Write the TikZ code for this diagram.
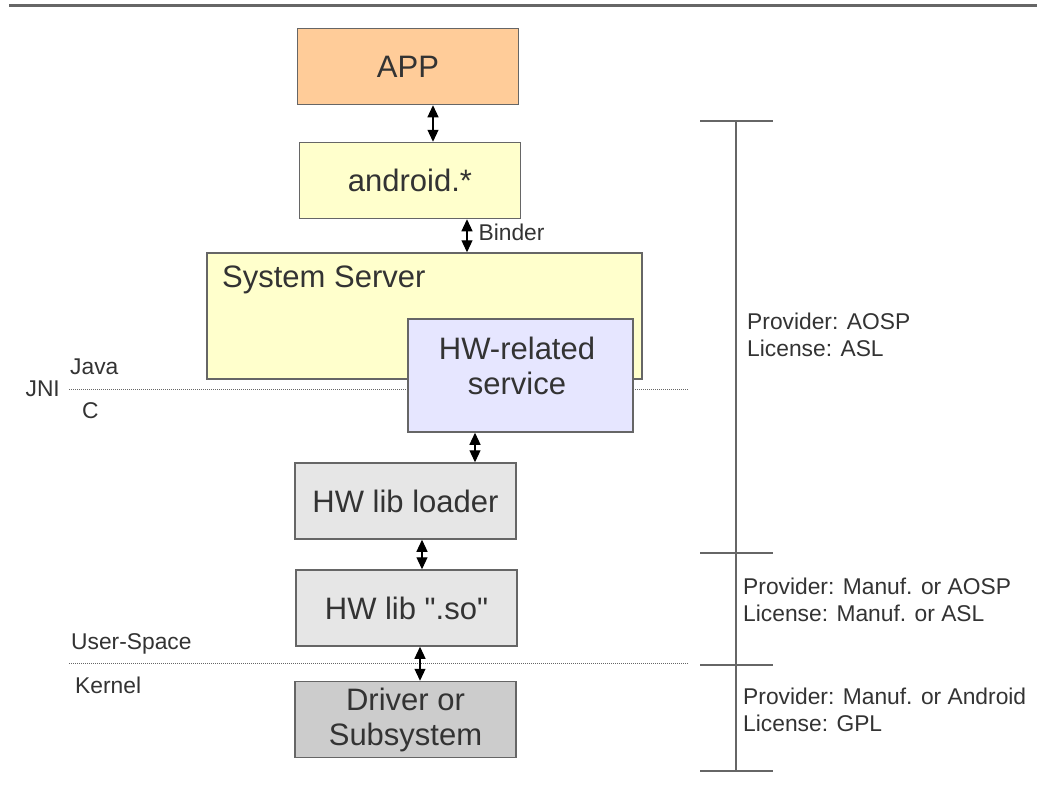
\documentclass[tikz,border=0pt]{standalone}
\usepackage{fontspec}
\setmainfont{Liberation Sans}[Ligatures=TeXOff]
\usetikzlibrary{arrows.meta,positioning}

\definecolor{linegray}{HTML}{666666}
\definecolor{textgray}{HTML}{333333}
\definecolor{apporange}{HTML}{FFCC99}
\definecolor{paleyellow}{HTML}{FFFFCC}
\definecolor{palelilac}{HTML}{E6E6FF}
\definecolor{boxgray}{HTML}{E6E6E6}
\definecolor{darkbox}{HTML}{CCCCCC}

\begin{document}
\begin{tikzpicture}[x=1pt, y=-1pt,
    bigtxt/.style={text=textgray, font=\fontsize{31}{35}\selectfont, align=center, inner sep=0pt},
    box/.style={bigtxt, draw=linegray, line width=1.5pt, minimum width=221pt, minimum height=76pt},
    note/.style={text=textgray, font=\fontsize{22.8}{27}\selectfont, align=left, inner sep=0pt},
    biarrow/.style={line width=1.2pt, {Triangle[length=12pt,width=11pt]}-{Triangle[length=12pt,width=11pt]}},
    sep/.style={linegray, line width=1pt, dash pattern=on 1pt off 1pt}]

    \path[use as bounding box, fill=white] (0,0) rectangle (1037,801);
    \draw[linegray, line width=3pt] (9,5.5) -- (1037,5.5);

    % layer separators
    \coordinate (jniL) at (69,389);
    \coordinate (jniR) at (688,389);
    \coordinate (usrL) at (69,663);
    \coordinate (usrR) at (688,663);
    \draw[sep] (jniL) -- (jniR);
    \draw[sep] (usrL) -- (usrR);
    \node[note, left=9pt of jniL] (jni) {JNI};
    \node[note, anchor=west] (java) at (70,367) {Java};
    \node[note, anchor=west] (clang) at (82,411) {C};
    \node[note, anchor=west] (user) at (71,644) {User-Space};
    \node[note, anchor=west] (kernel) at (75,685) {Kernel};

    % stack
    \node[box, fill=apporange] (app) at (408,66.5) {APP};
    \node[box, fill=paleyellow] (android) at (410,180.5) {android.*};
    \node[box, fill=paleyellow, minimum width=435pt, minimum height=126pt] (sysserver) at (424.5,316) {};
    \node[bigtxt, anchor=west] (sstitle) at (222,280) {System Server};
    \node[box, fill=palelilac, minimum width=225pt, minimum height=113pt] (hwservice) at (520.5,375.5) {};
    \node[bigtxt] (hwtext) at (517,365.5) {HW-related\\service};
    \node[box, fill=boxgray] (loader) at (405.5,501) {HW lib loader};
    \node[box, fill=boxgray] (solib) at (406.5,608) {HW lib ".so"};
    \node[box, fill=darkbox] (driver) at (405.5,719.5) {Driver or\\Subsystem};

    \draw[biarrow] ([xshift=25pt]app.south) -- ([xshift=23pt]android.north);
    \draw[biarrow] ([xshift=57pt]android.south) -- node[note, right=11pt, yshift=3pt] (binder) {Binder} ([xshift=42.5pt]sysserver.north);
    \draw[biarrow] ([xshift=-45.5pt]hwservice.south) -- ([xshift=69.5pt]loader.north);
    \draw[biarrow] ([xshift=16.5pt]loader.south) -- ([xshift=15.5pt]solib.north);
    \draw[biarrow] ([xshift=13.5pt]solib.south) -- ([xshift=14.5pt]driver.north);

    % provider / license bracket
    \coordinate (brTop) at (736,121);
    \coordinate (brBot) at (736,771);
    \draw[linegray, line width=1.5pt] (brTop) -- (brBot);
    \foreach \y in {121,553,665,771}
      \draw[linegray, line width=1.5pt] (700,\y) -- (773,\y);

    \node[note, anchor=west] (aosp) at (747,334.5) {Provider: AOSP\\License: ASL};
    \node[note, anchor=west] (manuf) at (743,600) {Provider: Manuf. or AOSP\\License: Manuf. or ASL};
    \node[note, anchor=west] (kern) at (743,710) {Provider: Manuf. or Android\\License: GPL};
  \end{tikzpicture}
\end{document}
